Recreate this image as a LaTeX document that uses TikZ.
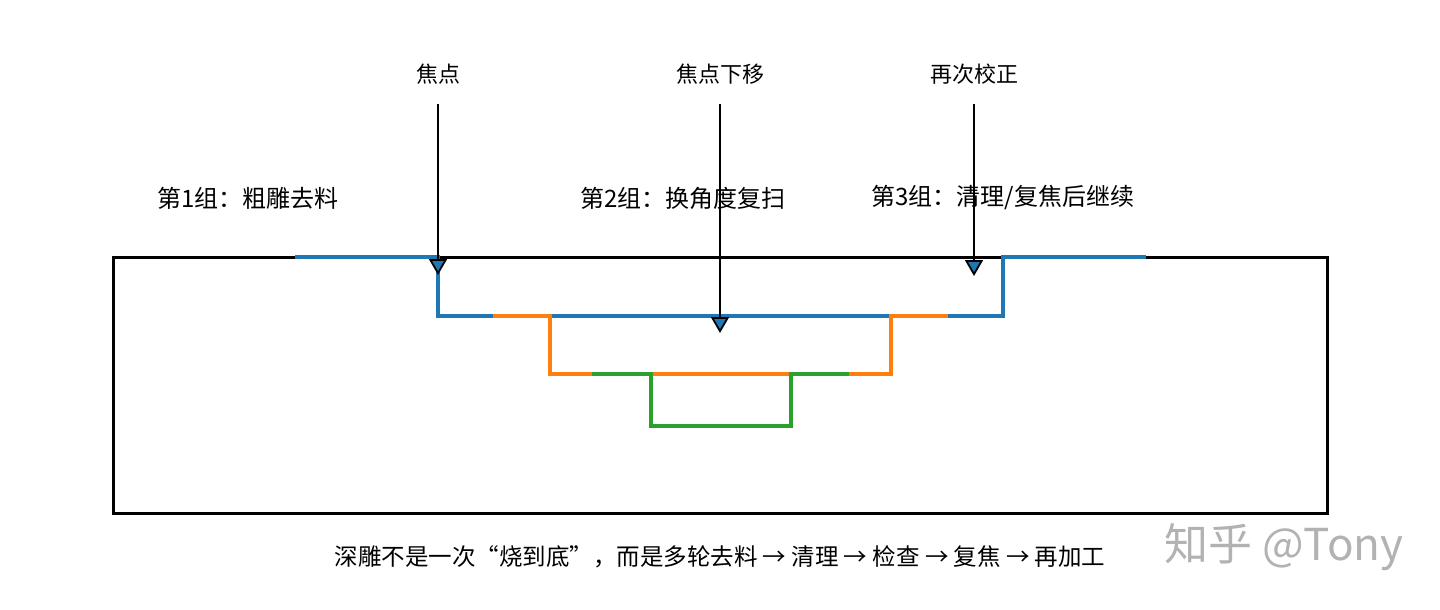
\documentclass[tikz,border=0pt]{standalone}
\usepackage{fontspec}
\setmainfont{Noto Sans CJK SC}
\usetikzlibrary{arrows.meta}
\definecolor{cblue}{HTML}{1F77B4}
\definecolor{corange}{HTML}{FF7F0E}
\definecolor{cgreen}{HTML}{2CA02C}
\tikzset{
  lbl/.style={inner sep=0pt, font=\fontsize{22}{26}\selectfont},
  grp/.style={inner sep=0pt, font=\fontsize{24}{28}\selectfont},
  focusarrow/.style={draw=black, line width=2.2pt,
    -{Triangle[width=18pt,length=16pt,fill=cblue,line width=1.8pt]}},
  stepline/.style={line width=3.5pt, line join=miter},
  boxline/.style={draw=black, line width=3pt}
}
\begin{document}
\begin{tikzpicture}[x=1pt,y=-1pt]
\useasboundingbox (0,0) rectangle (1440,610);
% workpiece
\draw[boxline] (113,257) rectangle (1327,513);
% blue: group 1
\draw[stepline, cblue] (295,257) -- (438,257) -- (438,316) -- (1003,316) -- (1003,257) -- (1146,257);
% orange: group 2
\draw[stepline, corange] (493,316) -- (550,316) -- (550,374) -- (891,374) -- (891,316) -- (948,316);
% green: group 3
\draw[stepline, cgreen] (592,374) -- (651,374) -- (651,426) -- (791,426) -- (791,374) -- (849,374);
% labels
\node[lbl] (f1) at (438,74) {焦点};
\node[lbl] (f2) at (720,74) {焦点下移};
\node[lbl] (f3) at (974,74) {再次校正};
\node[grp] (g1) at (248,198) {第1组：粗雕去料};
\node[grp] (g2) at (683,198) {第2组：换角度复扫};
\node[grp] (g3) at (1003,198) {第3组：清理/复焦后继续};
\coordinate (t1) at (438,275);
\coordinate (t2) at (720,333);
\coordinate (t3) at (974,276);
\draw[focusarrow] (438,104) -- (t1);
\draw[focusarrow] (720,104) -- (t2);
\draw[focusarrow] (974,104) -- (t3);
\node[inner sep=0pt, font=\fontsize{23.5}{28}\selectfont] (cap) at (720,557) {深雕不是一次“烧到底”，而是多轮去料 → 清理 → 检查 → 复焦 → 再加工};
\node[inner sep=0pt, text=black!30, font=\fontsize{44}{50}\selectfont] (wm) at (1284,547) {知乎 @Tony};
\end{tikzpicture}
\end{document}
